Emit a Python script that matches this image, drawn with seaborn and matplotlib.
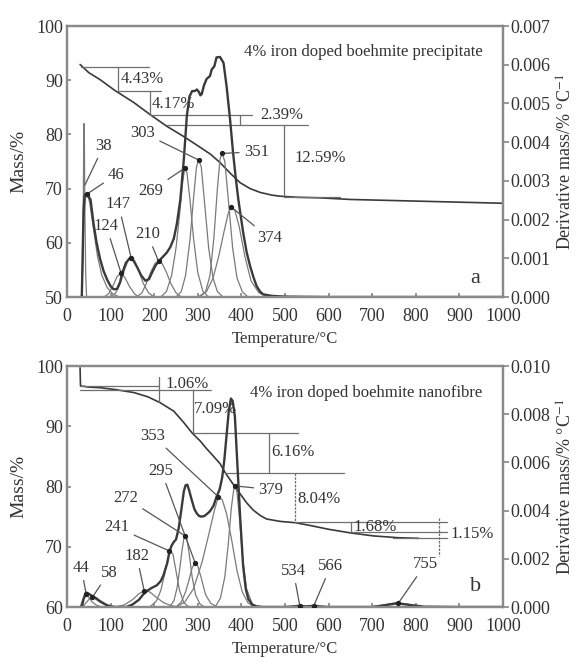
import matplotlib
matplotlib.use('Agg')
import matplotlib.pyplot as plt
import seaborn as sns
import pandas as pd

sns.set_theme(style="white")
plt.rcParams['font.family'] = ['Liberation Serif', 'DejaVu Serif']
plt.rcParams['mathtext.fontset'] = 'stix'

# ---------------- panel a : precipitate ----------------
a_tg_t = [30, 50, 76, 110, 153, 190, 229, 268, 306, 330, 351, 375, 397, 420, 443, 470, 489, 530, 580, 650, 750, 850, 950, 1000]
a_tg_m = [92.9, 91.4, 90.1, 88.1, 85.9, 83.7, 81.5, 79.6, 77.6, 76.3, 74.8, 72.8, 71.1, 70.0, 69.3, 68.8, 68.6, 68.4, 68.3, 68.0, 67.8, 67.6, 67.4, 67.3]

a_dtg_t = [30, 34, 36, 38, 40, 42, 46, 54, 61, 68, 76, 84, 92, 100, 107, 115, 122, 126, 135, 145, 152, 161, 170, 180,
           188, 195, 203, 210, 220, 229, 237, 245, 252, 260, 268, 275, 281, 287, 293, 298, 303, 306, 309, 314, 320,
           328, 332, 338, 343, 351, 359, 366, 374, 381, 387, 393, 404, 412, 420, 428, 435, 443, 450, 470, 500, 600, 1000]
a_dtg_v = [0, 0, 0.00112, 0.00224, 0.00259, 0.00266, 0.00266, 0.00252, 0.00189, 0.0014, 0.00098, 0.00067, 0.00045,
           0.00028, 0.0002, 0.00021, 0.00039, 0.0006, 0.00088, 0.00102, 0.00095, 0.00077, 0.00056, 0.00042, 0.00046,
           0.00063, 0.00081, 0.00092, 0.00104, 0.00115, 0.00129, 0.00151, 0.00189, 0.00252, 0.00356, 0.00469, 0.00518,
           0.00532, 0.00532, 0.00536, 0.00529, 0.00521, 0.00524, 0.00546, 0.00563, 0.00571, 0.00588, 0.00596, 0.00619,
           0.0062, 0.00605, 0.00545, 0.00459, 0.00372, 0.00308, 0.00252, 0.00167, 0.00116, 0.0008, 0.0005, 0.00028,
           0.00014, 0.00007, 0.00003, 0.00001, 0, 0]

a_c38_t = [33, 35, 37, 38, 39, 40, 41, 43, 45]
a_c38_v = [0, 0.00028, 0.00168, 0.00336, 0.00448, 0.00392, 0.00224, 0.00056, 0]
a_c46_t = [34, 36, 38, 42, 46, 52, 60, 70, 80, 92, 105, 120]
a_c46_v = [0, 0.00084, 0.00182, 0.00252, 0.00266, 0.00245, 0.00182, 0.00105, 0.00056, 0.00025, 0.00008, 0]
a_c124_t = [85, 95, 105, 115, 124, 133, 143, 155, 165]
a_c124_v = [0, 0.00008, 0.00028, 0.00053, 0.00062, 0.0005, 0.00028, 0.00008, 0]
a_c147_t = [100, 112, 122, 132, 140, 147, 155, 165, 175, 187, 200]
a_c147_v = [0, 0.00011, 0.00035, 0.0007, 0.00094, 0.00102, 0.00094, 0.00067, 0.00035, 0.00011, 0]
a_c210_t = [160, 172, 182, 192, 202, 210, 218, 228, 238, 250, 262]
a_c210_v = [0, 0.00011, 0.00035, 0.00064, 0.00087, 0.00092, 0.00087, 0.00064, 0.00035, 0.00011, 0]
a_c269_t = [215, 228, 240, 250, 258, 265, 270, 275, 282, 290, 300, 312, 325]
a_c269_v = [0, 0.00014, 0.00056, 0.00126, 0.0021, 0.00294, 0.00333, 0.00322, 0.00252, 0.00154, 0.00063, 0.00014, 0]
a_c303_t = [250, 262, 272, 282, 290, 297, 302, 308, 316, 325, 335, 345, 358]
a_c303_v = [0, 0.00014, 0.00056, 0.00147, 0.00252, 0.00336, 0.00354, 0.00336, 0.00238, 0.00126, 0.00049, 0.00014, 0]
a_c351_t = [305, 318, 328, 337, 345, 351, 356, 362, 370, 380, 390, 402, 415]
a_c351_v = [0, 0.00014, 0.00056, 0.00154, 0.0028, 0.00357, 0.00371, 0.0035, 0.00252, 0.00126, 0.00049, 0.00014, 0]
a_c374_t = [300, 320, 335, 348, 360, 370, 377, 385, 395, 408, 422, 440, 460]
a_c374_v = [0, 0.00014, 0.00049, 0.00105, 0.00168, 0.00217, 0.00232, 0.00224, 0.00182, 0.00105, 0.00042, 0.00011, 0]

a_peak_labels = ['38', '46', '124', '147', '210', '269', '303', '351', '374']
a_peak_t = [41.5, 46, 124, 147, 210, 270, 302, 356, 377]
a_peak_v = [0.0029, 0.00266, 0.00062, 0.00102, 0.00092, 0.00333, 0.00354, 0.00371, 0.00232]
a_peak_dot = [False, True, True, True, True, True, True, True, True]

a_step_labels = ['4.43%', '4.17%', '2.39%', '12.59%']
a_step_levels = [92.5, 88.0, 83.5, 81.7, 68.4]

# ---------------- panel b : nanofibre ----------------
b_tg_t = [30, 31, 50, 76, 110, 153, 185, 214, 245, 268, 288, 305, 320, 335, 351, 362, 380, 397, 412, 427, 443, 458,
          490, 523, 560, 600, 650, 703, 760, 806]
b_tg_m = [99.7, 96.7, 96.5, 96.4, 96.1, 95.6, 94.9, 93.9, 92.5, 90.6, 88.8, 87.6, 86.3, 85.1, 83.8, 82.4, 80.5, 78.8,
          77.3, 76.1, 75.2, 74.6, 74.2, 74.0, 73.5, 72.9, 72.3, 71.8, 71.5, 71.4]

b_dtg_t = [30, 34, 38, 44, 50, 58, 66, 75, 89, 100, 113, 136, 150, 165, 175, 182, 195, 206, 215, 221, 230, 235, 240,
           245, 250, 256, 262, 268, 272, 276, 280, 286, 292, 297, 303, 309, 315, 322, 328, 336, 343, 350, 356, 361,
           366, 371, 376, 380, 385, 391, 397, 404, 410, 416, 425, 435, 450, 500, 520, 534, 548, 566, 580, 600, 700,
           730, 755, 770, 790, 820, 900, 1000]
b_dtg_v = [0, 0, 0.000325, 0.0006, 0.00055, 0.00045, 0.000375, 0.00025, 0.0001, 0.000025, 0, 0, 0.0001, 0.0003,
           0.000525, 0.00065, 0.0008, 0.0009, 0.001075, 0.0013, 0.001825, 0.0023, 0.00255, 0.0027, 0.0028, 0.00325,
           0.004, 0.0048, 0.00505, 0.005075, 0.00485, 0.00445, 0.004075, 0.0039, 0.003775, 0.00375, 0.003775, 0.003875,
           0.003975, 0.0042, 0.004575, 0.004875, 0.005375, 0.006125, 0.007125, 0.008125, 0.00865, 0.00855, 0.007925,
           0.00585, 0.003775, 0.0017, 0.00075, 0.000325, 0.0001, 0.000025, 0, 0, 0.000025, 0.00005, 0.000025, 0.00005,
           0.000025, 0, 0, 0.000075, 0.00015, 0.000125, 0.000075, 0.000012, 0, 0]

b_c44_t = [30, 35, 40, 44, 50, 58, 68, 80]
b_c44_v = [0, 0.00025, 0.0005, 0.00055, 0.0004, 0.0002, 0.000075, 0]
b_c58_t = [35, 45, 52, 58, 66, 78, 92, 110]
b_c58_v = [0, 0.0002, 0.00035, 0.0004, 0.000325, 0.000175, 0.00005, 0]
b_c182_t = [110, 130, 150, 165, 177, 190, 205, 222, 240, 260]
b_c182_v = [0, 0.000075, 0.0003, 0.00055, 0.000675, 0.000625, 0.0004, 0.000175, 0.00005, 0]
b_c241_t = [190, 205, 215, 225, 232, 237, 243, 250, 258, 268, 280]
b_c241_v = [0, 0.00025, 0.000675, 0.00145, 0.002075, 0.002325, 0.0022, 0.0015, 0.0007, 0.000175, 0]
b_c272_t = [235, 245, 252, 258, 264, 268, 271, 275, 280, 287, 295, 305, 315]
b_c272_v = [0, 0.00025, 0.00075, 0.0015, 0.002375, 0.002825, 0.00295, 0.002825, 0.00225, 0.00125, 0.0005, 0.000125, 0]
b_c295_t = [250, 262, 272, 280, 287, 294, 300, 308, 318, 330, 345]
b_c295_v = [0, 0.0002, 0.000625, 0.001125, 0.001625, 0.001825, 0.0017, 0.0012, 0.0005, 0.00015, 0]
b_c353_t = [250, 270, 290, 310, 325, 338, 347, 356, 366, 378, 390, 402, 415, 430]
b_c353_v = [0, 0.0002, 0.00075, 0.001875, 0.003, 0.004, 0.004575, 0.00445, 0.003875, 0.00275, 0.0015, 0.000625, 0.000175, 0]
b_c379_t = [340, 352, 362, 370, 377, 383, 386, 390, 396, 403, 412, 425, 440]
b_c379_v = [0, 0.000375, 0.00125, 0.002625, 0.004125, 0.00495, 0.005025, 0.00475, 0.003625, 0.002, 0.00075, 0.000125, 0]
b_c755_t = [690, 710, 730, 748, 760, 775, 790, 810, 830]
b_c755_v = [0, 0.0000375, 0.0001, 0.00015, 0.0001625, 0.0001375, 0.0000875, 0.000025, 0]

b_peak_labels = ['44', '58', '182', '241', '272', '295', '353', '379', '534', '566', '755']
b_peak_t = [44, 58, 177, 235, 271, 294, 347, 385, 534, 566, 760]
b_peak_v = [0.000525, 0.0004, 0.000675, 0.002325, 0.00295, 0.001825, 0.004575, 0.005025, 0.00005, 0.00005, 0.00016]

b_step_labels = ['1.06%', '7.09%', '6.16%', '8.04%', '1.68%', '1.15%']
b_step_levels = [96.1, 88.8, 82.3, 74.1, 72.4, 71.4]

GREY_DARK = '#3a3a3a'
GREY = '#7a7a7a'
GUIDE = '#6e6e6e'
TXT = '#333333'

fig = plt.figure(figsize=(5.84, 6.57), dpi=100)
ax_a = fig.add_axes([0.1147, 0.5479, 0.7466, 0.4125])
ax_b = fig.add_axes([0.1147, 0.0761, 0.7466, 0.3668])


def curve(ax, t, v, color, lw):
    df = pd.DataFrame({'T': t, 'v': v})
    sns.lineplot(data=df, x='T', y='v', ax=ax, color=color, linewidth=lw,
                 estimator=None, sort=False, legend=False)


def hline(ax, y, x0, x1, **kw):
    ax.plot([x0, x1], [y, y], color=GUIDE, lw=0.9, **kw)


def vline(ax, x, y0, y1, **kw):
    ax.plot([x, x], [y0, y1], color=GUIDE, lw=0.9, **kw)


def style_axes(ax, ax2, ylim, yticks, rlim, rticks, rfmt):
    ax.set_xlim(0, 1000)
    ax.set_ylim(*ylim)
    ax.set_yticks(yticks)
    ax.set_xticks(range(0, 1001, 100))
    ax2.set_ylim(*rlim)
    ax2.set_yticks(rticks)
    ax2.set_yticklabels([rfmt % v for v in rticks])
    for a in (ax, ax2):
        for s in a.spines.values():
            s.set_color('#8a8a8a')
            s.set_linewidth(1.6)
    ax.tick_params(axis='y', direction='in', length=3, color='#8a8a8a',
                   labelsize=13, labelcolor=TXT, pad=3, left=True)
    ax.tick_params(axis='x', direction='in', length=3, color='#8a8a8a',
                   labelsize=13, labelcolor=TXT, pad=8, bottom=True)
    ax2.tick_params(axis='y', direction='out', length=4, color='#8a8a8a',
                    labelsize=13, labelcolor=TXT, pad=1, right=True)
    ax.set_xlabel('Temperature/\u00b0C', fontsize=12, color=TXT, labelpad=4)
    ax.set_ylabel('Mass/%', fontsize=14, color=TXT, labelpad=6)
    ax2.set_ylabel('Derivative mass/% \u00b0C$^{-1}$', fontsize=13, color=TXT,
                   rotation=90, labelpad=5)
    ax2.set_xlabel('')


def peak_labels(ax, ax2, labels, pt, pv, pos, dots=None):
    for i, lab in enumerate(labels):
        if dots is None or dots[i]:
            ax2.plot(pt[i], pv[i], 'o', ms=2.8, color='#222222', zorder=5)
        ax2.annotate(lab, xy=(pt[i], pv[i]), xytext=pos[i], textcoords=ax.transData,
                     ha='center', va='center', fontsize=12, color=TXT,
                     arrowprops=dict(arrowstyle='-', color='#555555', lw=0.9,
                                     shrinkA=1, shrinkB=0))


# ---------------- draw panel a ----------------
ax2_a = ax_a.twinx()
curve(ax_a, a_tg_t, a_tg_m, GREY_DARK, 1.2)
for t, v in [(a_c38_t, a_c38_v), (a_c46_t, a_c46_v), (a_c124_t, a_c124_v), (a_c147_t, a_c147_v),
             (a_c210_t, a_c210_v), (a_c269_t, a_c269_v), (a_c303_t, a_c303_v), (a_c351_t, a_c351_v),
             (a_c374_t, a_c374_v)]:
    curve(ax2_a, t, v, GREY, 0.9)
curve(ax2_a, a_dtg_t, a_dtg_v, GREY_DARK, 1.7)

style_axes(ax_a, ax2_a, (50, 100), range(50, 101, 10), (0, 0.007),
           [0.0, 0.001, 0.002, 0.003, 0.004, 0.005, 0.006, 0.007], '%.3f')

la = a_step_levels
hline(ax_a, la[0], 31, 187)
vline(ax_a, 118, la[0], la[1])
hline(ax_a, la[1], 118, 215)
vline(ax_a, 190, la[1], la[2])
hline(ax_a, la[2], 190, 424)
vline(ax_a, 397, la[2], la[3])
hline(ax_a, la[3], 229, 553)
vline(ax_a, 498, la[3], la[4])
hline(ax_a, la[4], 498, 626)
step_kw = dict(fontsize=12, color=TXT, ha='left', va='center')
ax_a.text(122, 90.2, a_step_labels[0], **step_kw)
ax_a.text(195, 85.6, a_step_labels[1], **step_kw)
ax_a.text(443, 83.5, a_step_labels[2], **step_kw)
ax_a.text(522, 75.7, a_step_labels[3], **step_kw)

a_label_pos = [(84, 77.9), (113, 72.6), (90, 63.1), (118, 67.1), (185, 61.6), (193, 69.6),
               (174, 80.3), (434, 76.8), (464, 60.9)]
peak_labels(ax_a, ax2_a, a_peak_labels, a_peak_t, a_peak_v, a_label_pos, a_peak_dot)

ax_a.text(679, 95.2, '4% iron doped boehmite precipitate', fontsize=12, color=TXT,
          ha='center', va='center')
ax_a.text(936, 53.5, 'a', fontsize=16, color=TXT, ha='center', va='center')

# ---------------- draw panel b ----------------
ax2_b = ax_b.twinx()
curve(ax_b, b_tg_t, b_tg_m, GREY_DARK, 1.2)
for t, v in [(b_c44_t, b_c44_v), (b_c58_t, b_c58_v), (b_c182_t, b_c182_v), (b_c241_t, b_c241_v),
             (b_c272_t, b_c272_v), (b_c295_t, b_c295_v), (b_c353_t, b_c353_v), (b_c379_t, b_c379_v),
             (b_c755_t, b_c755_v)]:
    curve(ax2_b, t, v, GREY, 0.9)
curve(ax2_b, b_dtg_t, b_dtg_v, GREY_DARK, 1.7)

style_axes(ax_b, ax2_b, (60, 100), range(60, 101, 10), (0, 0.010),
           [0.0, 0.002, 0.004, 0.006, 0.008, 0.010], '%.3f')

lb = b_step_levels
hline(ax_b, lb[0], 30, 330)
vline(ax_b, 210, 98.2, 94.0)
hline(ax_b, 96.7, 30, 210)
vline(ax_b, 288, lb[0], lb[1])
hline(ax_b, lb[1], 288, 530)
vline(ax_b, 464, lb[1], lb[2])
hline(ax_b, lb[2], 362, 636)
vline(ax_b, 523, lb[2], lb[3], ls=(0, (2, 1)))
hline(ax_b, lb[3], 523, 871)
hline(ax_b, lb[4], 651, 871)
vline(ax_b, 651, lb[3], lb[4])
hline(ax_b, lb[5], 748, 871)
vline(ax_b, 853, 74.8, 68.5, ls=(0, (2, 1)))
ax_b.text(225, 97.0, b_step_labels[0], **step_kw)
ax_b.text(292, 92.8, b_step_labels[1], **step_kw)
ax_b.text(469, 85.7, b_step_labels[2], **step_kw)
ax_b.text(529, 78.0, b_step_labels[3], **step_kw)
ax_b.text(656, 73.3, b_step_labels[4], **step_kw)
ax_b.text(880, 72.2, b_step_labels[5], **step_kw)

b_label_pos = [(33, 66.5), (96, 65.7), (160, 68.5), (115, 73.2), (135, 78.1), (216, 82.6),
               (197, 88.4), (467, 79.5), (519, 66.0), (605, 66.8), (822, 67.1)]
peak_labels(ax_b, ax2_b, b_peak_labels, b_peak_t, b_peak_v, b_label_pos)

ax_b.text(687, 95.5, '4% iron doped boehmite nanofibre', fontsize=12, color=TXT,
          ha='center', va='center')
ax_b.text(936, 63.4, 'b', fontsize=16, color=TXT, ha='center', va='center')

fig.savefig('out.png', dpi=100)
plt.close(fig)
